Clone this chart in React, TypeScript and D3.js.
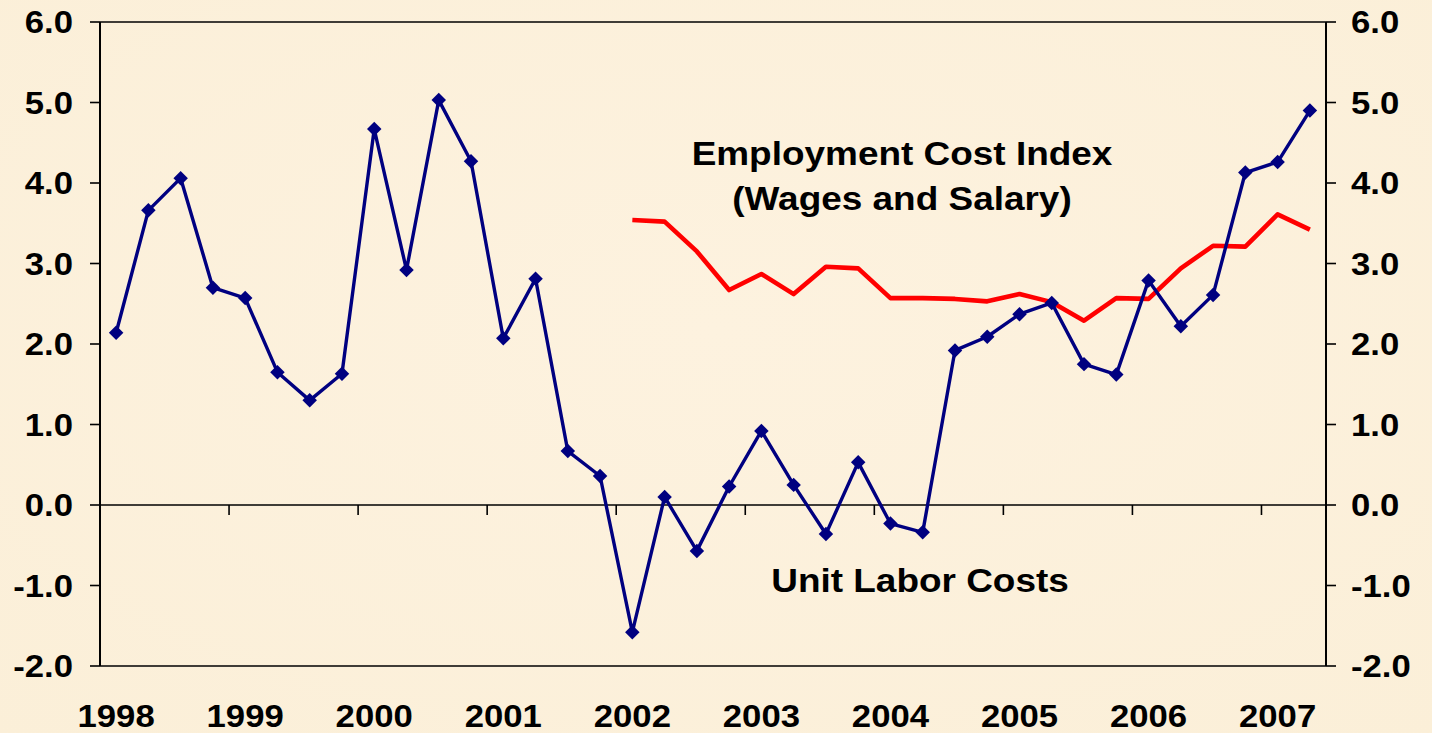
import React from "react";
import * as d3 from "d3";

const years = ["1998", "1999", "2000", "2001", "2002", "2003", "2004", "2005", "2006", "2007"];
const quarterNames = ["Q1", "Q2", "Q3", "Q4"];
const quarters: string[] = [];
years.forEach((yr) => quarterNames.forEach((q) => quarters.push(yr + q)));
const categories = quarters.slice(0, 38); // 1998Q1 .. 2007Q2

const unitLaborCosts = [
  2.14, 3.66, 4.06, 2.70,
  2.57, 1.65, 1.30, 1.63,
  4.67, 2.92, 5.03, 4.27,
  2.07, 2.81, 0.67, 0.36,
  -1.58, 0.10, -0.57, 0.23,
  0.92, 0.25, -0.36, 0.53,
  -0.23, -0.34, 1.92, 2.09,
  2.37, 2.51, 1.75, 1.62,
  2.79, 2.22, 2.61, 4.13,
  4.26, 4.90,
];

const eciStart = "2002Q1";
const eciValues = [
  3.54, 3.52, 3.15, 2.67,
  2.87, 2.62, 2.96, 2.94,
  2.57, 2.57, 2.56, 2.53,
  2.62, 2.52, 2.29, 2.57,
  2.56, 2.94, 3.22, 3.21,
  3.61, 3.42,
];

const yTicks = [-2, -1, 0, 1, 2, 3, 4, 5, 6];

const W = 1432;
const H = 733;
const left = 100;
const right = 1326;
const top = 22;
const bottom = 666;
const SX = 1.12;
const FONT = "'Liberation Sans', Arial, sans-serif";

export default function App() {
  const x = d3.scaleBand<string>().domain(categories).range([left, right]).padding(0);
  const bw = x.bandwidth();
  const cx = (c: string) => (x(c) as number) + bw / 2;
  const y = d3.scaleLinear().domain([-2, 6]).range([bottom, top]);

  const ulcPts = categories.map((c, i) => ({ c, v: unitLaborCosts[i] }));
  const startIdx = categories.indexOf(eciStart);
  const eciPts = eciValues.map((v, i) => ({ c: categories[startIdx + i], v }));

  const line = d3
    .line<{ c: string; v: number }>()
    .x((d) => cx(d.c))
    .y((d) => y(d.v));

  const marker = d3.symbol().type(d3.symbolSquare).size(105)() as string;
  const fmt = d3.formatLocale({ decimal: ".", thousands: ",", grouping: [3], currency: ["$", ""], minus: "-" }).format(".1f");

  const yearBoundaries = years
    .slice(1)
    .map((yr) => x(yr + "Q1") as number)
    .filter((v) => v !== undefined && v < right);

  const stretchText = (
    key: string,
    tx: number,
    ty: number,
    txt: string,
    size: number,
    anchor: "start" | "middle" | "end",
    dy = "0"
  ) => (
    <text
      key={key}
      transform={`translate(${tx},${ty}) scale(${SX},1)`}
      textAnchor={anchor}
      dy={dy}
      fontFamily={FONT}
      fontWeight="bold"
      fontSize={size}
      fill="#000"
    >
      {txt}
    </text>
  );

  return (
    <div style={{ position: "absolute", left: 0, top: 0 }}>
      <svg width={W} height={H} style={{ display: "block" }}>
        <defs>
          <radialGradient id="bg" cx="50%" cy="45%" r="75%">
            <stop offset="0%" stopColor="#FDF2DF" />
            <stop offset="100%" stopColor="#FBEFD8" />
          </radialGradient>
        </defs>
        <rect x={0} y={0} width={W} height={H} fill="url(#bg)" />

        {/* frame */}
        <line x1={left} x2={right} y1={top} y2={top} stroke="#000" strokeWidth={1.6} />
        <line x1={left} x2={right} y1={bottom} y2={bottom} stroke="#000" strokeWidth={1.6} />
        <line x1={left} x2={left} y1={top} y2={bottom} stroke="#000" strokeWidth={2} />
        <line x1={right} x2={right} y1={top} y2={bottom} stroke="#000" strokeWidth={2} />
        {/* zero line */}
        <line x1={left} x2={right} y1={y(0)} y2={y(0)} stroke="#000" strokeWidth={1.6} />

        {/* y ticks and labels */}
        {yTicks.map((t) => (
          <g key={"yt" + t}>
            <line x1={left - 10} x2={left} y1={y(t)} y2={y(t)} stroke="#000" strokeWidth={1.6} />
            <line x1={right} x2={right + 10} y1={y(t)} y2={y(t)} stroke="#000" strokeWidth={1.6} />
            {stretchText("yl" + t, 73, y(t), fmt(t), 31, "end", "0.36em")}
            {stretchText("yr" + t, 1351, y(t), fmt(t), 31, "start", "0.36em")}
          </g>
        ))}

        {/* x ticks on zero line */}
        {yearBoundaries.map((bx, i) => (
          <line key={"xt" + i} x1={bx} x2={bx} y1={y(0)} y2={y(0) + 10} stroke="#000" strokeWidth={1.6} />
        ))}

        {/* year labels */}
        {years.map((yr) => stretchText("yrl" + yr, cx(yr + "Q1"), 727, yr, 31, "middle"))}

        {/* ECI line */}
        <path d={line(eciPts) as string} fill="none" stroke="#FF0000" strokeWidth={4.6} strokeLinejoin="round" />

        {/* ULC line */}
        <path d={line(ulcPts) as string} fill="none" stroke="#000080" strokeWidth={3.4} strokeLinejoin="round" />
        {ulcPts.map((d) => (
          <path
            key={"m" + d.c}
            d={marker}
            transform={`translate(${cx(d.c)},${y(d.v)}) rotate(45)`}
            fill="#000080"
          />
        ))}

        {/* annotations */}
        {stretchText("a1", 902, 165, "Employment Cost Index", 33, "middle")}
        {stretchText("a2", 902, 210, "(Wages and Salary)", 33, "middle")}
        {stretchText("a3", 920, 592, "Unit Labor Costs", 33, "middle")}
      </svg>
    </div>
  );
}
